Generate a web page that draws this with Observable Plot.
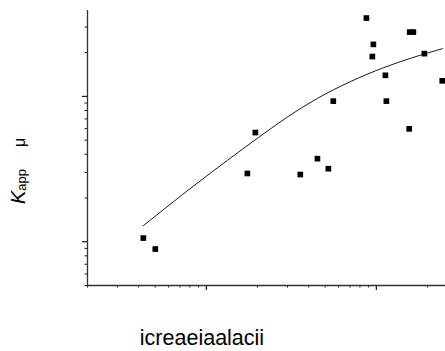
<!DOCTYPE html>
<html><head><meta charset="utf-8">
<script src="https://cdn.jsdelivr.net/npm/d3@7"></script>
<script src="https://cdn.jsdelivr.net/npm/@observablehq/plot@0.6"></script>
<style>html,body{margin:0;padding:0;background:#fff} svg{display:block}</style>
</head><body><div id="chart"></div>
<script>
// measured points (log-log)
const pointX = [0.426, 0.501, 1.743, 1.942, 3.57, 4.50, 5.22, 5.58, 8.74, 9.60, 9.47, 11.3, 11.45, 15.6, 15.7, 16.5, 19.15, 24.4];
const pointY = [1.06, 0.891, 2.95, 5.64, 2.90, 3.73, 3.18, 9.28, 34.6, 22.8, 18.8, 13.97, 9.28, 5.98, 27.7, 27.7, 19.7, 12.8];
// fitted curve
const fitX = [0.424, 0.882, 2.022, 4.498, 10.99, 24.45];
const fitY = [1.284, 2.525, 5.208, 9.69, 15.74, 21.30];
// axis ticks (no labels shown)
const xMajorTicks = [1, 10];
const xMinorTicks = [0.2, 0.3, 0.4, 0.5, 0.6, 0.7, 0.8, 0.9, 2, 3, 4, 5, 6, 7, 8, 9, 20];
const yMajorTicks = [1, 10];
const yMinorTicks = [0.5, 0.6, 0.7, 0.8, 0.9, 2, 3, 4, 5, 6, 7, 8, 9, 20, 30];
const xDomain = [0.2, 25.5];
const yDomain = [0.5, 39];
const xLabel = "icreaeiaalacii";
const yLabelMain = "K";
const yLabelSub = "app";
const yLabelUnit = "μ";

const points = pointX.map((x, i) => ({x, y: pointY[i]}));
const fit = fitX.map((x, i) => ({x, y: fitY[i]}));
const font = "'Liberation Sans', Arial, Helvetica, sans-serif";
const ink = "#1a1a1a";

const chart = Plot.plot({
  width: 445,
  height: 351,
  marginLeft: 87,
  marginRight: 0,
  marginTop: 10,
  marginBottom: 66,
  style: {fontFamily: font, background: "#fff", overflow: "visible"},
  x: {type: "log", domain: xDomain},
  y: {type: "log", domain: yDomain},
  marks: [
    Plot.axisX(xMinorTicks, {anchor: "bottom", tickSize: 2.5, tickFormat: () => "", label: null, stroke: ink, strokeWidth: 1}),
    Plot.axisX(xMajorTicks, {anchor: "bottom", tickSize: 5, tickFormat: () => "", label: null, stroke: ink, strokeWidth: 1.2}),
    Plot.axisY(yMinorTicks, {anchor: "left", tickSize: 2.5, tickFormat: () => "", label: null, stroke: ink, strokeWidth: 1}),
    Plot.axisY(yMajorTicks, {anchor: "left", tickSize: 5, tickFormat: () => "", label: null, stroke: ink, strokeWidth: 1.2}),
    Plot.ruleX([xDomain[0]], {stroke: "#333", strokeWidth: 1.3}),
    Plot.ruleY([yDomain[0]], {stroke: "#333", strokeWidth: 1.3}),
    Plot.line(fit, {x: "x", y: "y", curve: "natural", stroke: ink, strokeWidth: 1}),
    Plot.dot(points, {x: "x", y: "y", symbol: "square", r: 3.2, fill: "#000", stroke: "none"})
  ]
});

const svg = d3.select(chart);
const yl = svg.append("text")
  .attr("transform", "translate(25,204) rotate(-90)")
  .attr("text-anchor", "start")
  .attr("font-family", font)
  .attr("fill", "#000");
yl.append("tspan").attr("font-style", "italic").attr("font-size", 20).text(yLabelMain);
yl.append("tspan").attr("font-size", 13).attr("dy", 1).text(yLabelSub);
yl.append("tspan").attr("font-size", 16).attr("dy", -1).attr("dx", 22).text(yLabelUnit);

svg.append("text")
  .attr("x", 202)
  .attr("y", 345)
  .attr("text-anchor", "middle")
  .attr("font-family", font)
  .attr("font-size", 21.5)
  .attr("fill", "#000")
  .text(xLabel);

document.getElementById("chart").appendChild(chart);
</script>
</body></html>
